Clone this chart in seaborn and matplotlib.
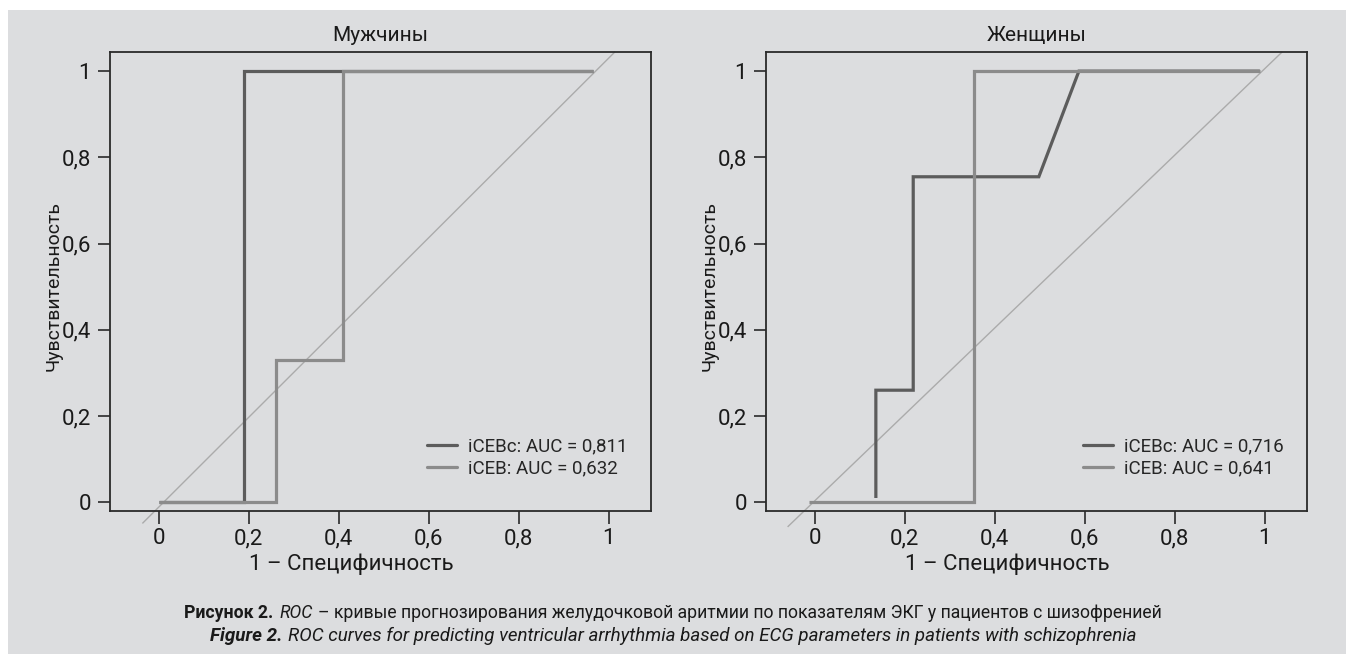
import matplotlib
matplotlib.use("Agg")
import matplotlib.pyplot as plt
import seaborn as sns
import pandas as pd
from matplotlib import font_manager as fm
from matplotlib.patches import Rectangle
from matplotlib.lines import Line2D

# ---------------- data ----------------
panel_titles = ["Мужчины", "Женщины"]
model_names = ["iCEBc", "iCEB"]
auc_men = ["0,811", "0,632"]
auc_women = ["0,716", "0,641"]

men_icebc_x = [0.0, 0.19, 0.19, 0.966]
men_icebc_y = [0.0, 0.0, 1.0, 1.0]
men_iceb_x = [0.0, 0.26, 0.26, 0.41, 0.41, 0.966]
men_iceb_y = [0.0, 0.0, 0.33, 0.33, 1.0, 1.0]

women_icebc_x = [0.136, 0.136, 0.219, 0.219, 0.498, 0.587, 0.989]
women_icebc_y = [0.01, 0.26, 0.26, 0.755, 0.755, 1.0, 1.0]
women_iceb_x = [-0.013, 0.355, 0.355, 0.989]
women_iceb_y = [0.0, 0.0, 1.0, 1.0]

men_diag_x = [-0.036, 1.014]
men_diag_y = [-0.049, 1.045]
women_diag_x = [-0.06, 1.039]
women_diag_y = [-0.057, 1.045]

tick_values = [0, 0.2, 0.4, 0.6, 0.8, 1.0]
tick_labels = ["0", "0,2", "0,4", "0,6", "0,8", "1"]

x_label = "1 – Специфичность"
y_label = "Чувствительность"

caption1 = [("Рисунок 2.", "bold", "normal"), ("ROC", "normal", "italic"),
            ("– кривые прогнозирования желудочковой аритмии по показателям ЭКГ у пациентов с шизофренией", "normal", "normal")]
caption2 = [("Figure 2.", "bold", "italic"),
            ("ROC curves for predicting ventricular arrhythmia based on ECG parameters in patients with schizophrenia", "normal", "italic")]

# ---------------- style ----------------
names = {f.name for f in fm.fontManager.ttflist}
FAM = "Liberation Sans Narrow" if "Liberation Sans Narrow" in names else "Roboto"

sns.set_theme(style="white")
plt.rcParams["font.family"] = [FAM, "DejaVu Sans"]

BG = "#dcdddf"
DARK = "#5c5c5c"
LIGHT = "#8b8b8b"
DIAG = "#ababab"
SPINE = "#2a2a2a"

fig = plt.figure(figsize=(13.46, 6.54), dpi=100)
fig.patch.set_facecolor("white")
fig.patches.append(Rectangle((8 / 1346, 0), 1, (654 - 10) / 654, transform=fig.transFigure,
                             facecolor=BG, edgecolor="none", zorder=-10))

panels = [
    (panel_titles[0], men_icebc_x, men_icebc_y, men_iceb_x, men_iceb_y, men_diag_x, men_diag_y, auc_men, 0.0817),
    (panel_titles[1], women_icebc_x, women_icebc_y, women_iceb_x, women_iceb_y, women_diag_x, women_diag_y, auc_women, 0.5691),
]

for title, cx, cy, bx, by, dx, dy, aucs, left in panels:
    ax = fig.add_axes([left, 0.2191, 0.4017, 0.7018])
    ax.set_facecolor(BG)
    labels = [f"{model_names[0]}: AUC = {aucs[0]}", f"{model_names[1]}: AUC = {aucs[1]}"]
    df = pd.DataFrame({
        "x": cx + bx,
        "y": cy + by,
        "model": [labels[0]] * len(cx) + [labels[1]] * len(bx),
    })
    # diagonal reference line
    ax.plot(dx, dy, color=DIAG, lw=1.0, clip_on=False, zorder=1)
    sns.lineplot(data=df, x="x", y="y", hue="model", hue_order=labels,
                 palette=[DARK, LIGHT], sort=False, estimator=None, legend=False,
                 lw=2.3, ax=ax, zorder=2)
    for ln in ax.lines:
        ln.set_solid_capstyle("butt")
        ln.set_solid_joinstyle("miter")
    ax.set_xlim(-0.108, 1.093)
    ax.set_ylim(-0.0195, 1.045)
    ax.set_xticks(tick_values)
    ax.set_xticklabels(tick_labels)
    ax.set_yticks(tick_values)
    ax.set_yticklabels(tick_labels)
    for s in ax.spines.values():
        s.set_visible(True)
        s.set_color(SPINE)
        s.set_linewidth(1.3)
    ax.tick_params(axis="both", direction="out", length=9, width=1.2, color=SPINE,
                   labelsize=16, labelcolor="#1a1a1a")
    ax.tick_params(axis="x", pad=3.5, bottom=True)
    ax.tick_params(axis="y", pad=4.7, left=True)
    ax.set_title(title, fontsize=15, pad=8, color="#1a1a1a")
    ax.set_xlabel(x_label, fontsize=16, color="#1a1a1a")
    ax.set_ylabel(y_label, fontsize=14, color="#1a1a1a")
    ax.xaxis.set_label_coords(0.446, -0.094)
    ax.yaxis.set_label_coords(-0.087, 0.49)
    handles = [Line2D([], [], color=DARK, lw=2.3), Line2D([], [], color=LIGHT, lw=2.3)]
    ax.legend(handles, labels, loc="lower left", bbox_to_anchor=(0.587, 0.073),
              frameon=False, fontsize=13.5, handlelength=1.6, handletextpad=0.55,
              labelspacing=0.2, borderpad=0, borderaxespad=0)

# ---------------- caption ----------------
fig.canvas.draw()
renderer = fig.canvas.get_renderer()


def draw_caption(parts, yc, size):
    texts = []
    for s, w, st in parts:
        t = fig.text(0, yc, s, fontsize=size, fontweight=w, fontstyle=st,
                     va="center", ha="left", color="#1a1a1a")
        texts.append(t)
    gap = 6
    widths = [t.get_window_extent(renderer).width for t in texts]
    total = sum(widths) + gap * (len(widths) - 1)
    x = 673 - total / 2
    for t, w in zip(texts, widths):
        t.set_x(x / 1346)
        x += w + gap


draw_caption(caption1, 0.0627, 12.7)
draw_caption(caption2, 0.0275, 13.5)

fig.savefig("out.png", dpi=100, facecolor=fig.get_facecolor())
